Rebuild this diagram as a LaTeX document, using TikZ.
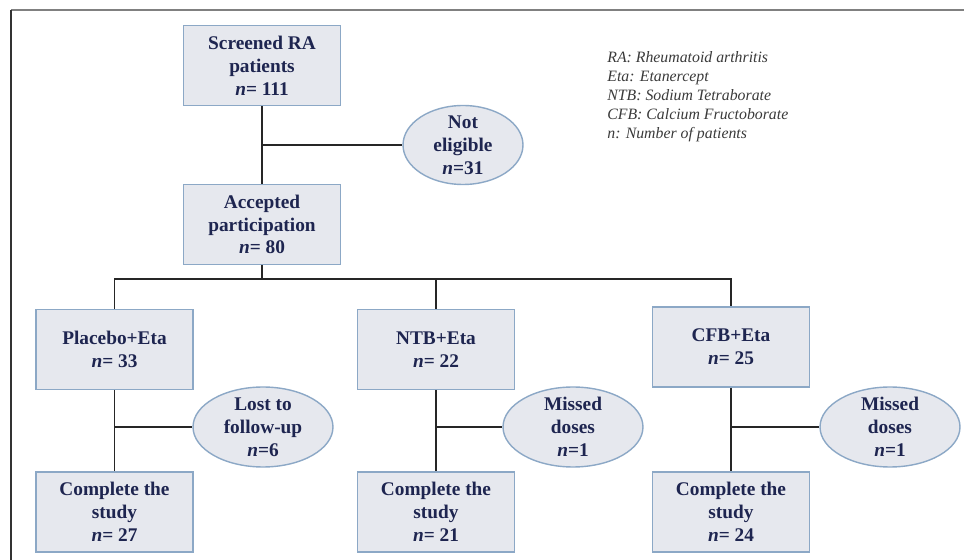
\documentclass[tikz,border=0pt]{standalone}
\usepackage{fontspec}
\setmainfont{Liberation Serif}
\usetikzlibrary{shapes.geometric}
\definecolor{boxfill}{HTML}{E6E8EE}
\definecolor{boxline}{HTML}{8CA8C6}
\definecolor{boxtext}{HTML}{1E2550}
\definecolor{legtext}{HTML}{3A3A3A}
\begin{document}
\begin{tikzpicture}[x=0.02cm,y=-0.02cm,
  box/.style={draw=boxline,fill=boxfill,line width=0.8pt,minimum width=3.14cm,minimum height=1.6cm,inner sep=0pt,align=center,text=boxtext,font=\fontsize{11}{13}\selectfont\bfseries},
  oval/.style={ellipse,draw=boxline,fill=boxfill,line width=0.8pt,minimum width=2.8cm,minimum height=1.6cm,inner xsep=0pt,inner ysep=-3pt,align=center,text=boxtext,font=\fontsize{11}{13}\selectfont\bfseries},
  link/.style={line width=1.1pt,draw=black!85}]
\useasboundingbox (0,0) rectangle (964,560);
\draw[gray,line width=1pt] (11,10) -- (964,10);
\draw[black!80,line width=1pt] (11,10) -- (11,560);

\node[box] (scr) at (262,65.5) {Screened RA\\patients\\\textit{n}= 111};
\node[box] (acc) at (262,224.5) {Accepted\\participation\\\textit{n}= 80};
\node[oval,minimum width=2.4cm,minimum height=1.58cm] (notel) at (463,145) {Not\\eligible\\\textit{n}=31};

\node[box] (plc) at (114.5,349.5) {Placebo+Eta\\\textit{n}= 33};
\node[box] (ntb) at (436,349.5) {NTB+Eta\\\textit{n}= 22};
\node[box] (cfb) at (731,347) {CFB+Eta\\\textit{n}= 25};

\node[oval] (lost) at (263,427) {Lost to\\follow-up\\\textit{n}=6};
\node[oval] (miss1) at (573,427) {Missed\\doses\\\textit{n}=1};
\node[oval] (miss2) at (890,427) {Missed\\doses\\\textit{n}=1};

\node[box] (cp1) at (114.5,512) {Complete the\\study\\\textit{n}= 27};
\node[box] (cp2) at (436,512) {Complete the\\study\\\textit{n}= 21};
\node[box] (cp3) at (731,512) {Complete the\\study\\\textit{n}= 24};

\node[anchor=north west,align=left,inner sep=0pt,text=legtext,font=\fontsize{9}{10.8}\selectfont\itshape] (legend) at (607,51)
  {RA: Rheumatoid arthritis\\Eta: Etanercept\\NTB: Sodium Tetraborate\\CFB: Calcium Fructoborate\\n: Number of patients};

\coordinate (split) at (262,279);
\draw[link] (scr) -- (acc);
\draw[link] (scr |- notel.west) -- (notel.west);
\draw[link] (acc) -- (split);
\draw[link] (plc.north) |- (split) -| (cfb.north);
\draw[link] (ntb.north) -- (ntb.north |- split);

\draw[link] (plc) -- (cp1);
\draw[link] (ntb) -- (cp2);
\draw[link] (cfb) -- (cp3);
\draw[link] (plc |- lost.west) -- (lost.west);
\draw[link] (ntb |- miss1.west) -- (miss1.west);
\draw[link] (cfb |- miss2.west) -- (miss2.west);
\end{tikzpicture}
\end{document}
